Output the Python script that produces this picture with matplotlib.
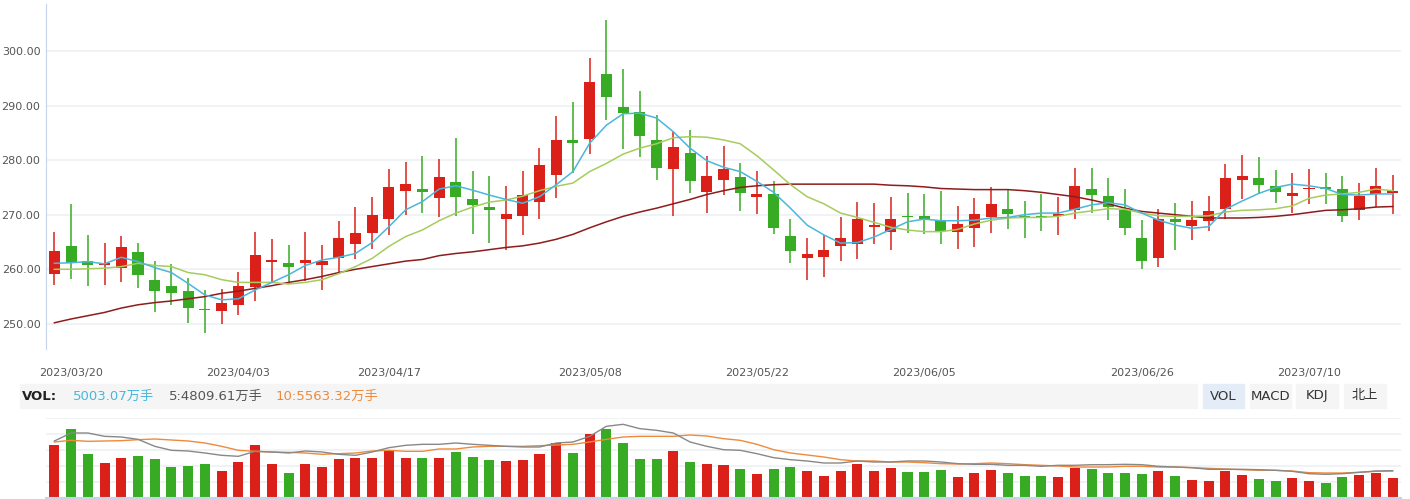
import numpy as np
import matplotlib
matplotlib.use("Agg")
import matplotlib.pyplot as plt
from matplotlib.patches import Rectangle

plt.rcParams['font.family'] = ['DejaVu Sans', 'Noto Sans CJK SC']

# daily candles, 2023/03/17 .. 2023/07/17
opens = [259.2, 264.3, 261.5, 260.8, 260.3, 263.2, 258.1, 257.0, 256.0, 252.8,
         252.3, 253.5, 256.8, 261.4, 261.2, 261.2, 260.8, 262.0, 264.7, 266.7,
         269.3, 274.4, 274.7, 273.1, 276.0, 272.9, 271.4, 269.3, 269.7, 272.4,
         277.2, 283.7, 283.8, 295.8, 289.7, 288.8, 283.7, 278.3, 281.3, 274.2,
         276.4, 276.9, 273.3, 273.8, 266.1, 262.1, 262.3, 264.2, 264.7, 267.8,
         266.9, 269.8, 269.8, 269.0, 266.9, 267.5, 269.6, 271.1, 269.8, 269.8,
         269.7, 270.8, 274.7, 273.4, 270.9, 265.8, 262.1, 269.2, 268.0, 268.9,
         271.1, 276.4, 276.7, 275.3, 273.5, 274.7, 275.1, 274.7, 270.8, 273.8, 273.9]
closes = [263.4, 261.1, 260.8, 261.2, 264.1, 258.9, 256.1, 255.7, 253.0, 252.6,
          253.8, 257.0, 262.6, 261.7, 260.5, 261.7, 261.5, 265.8, 266.7, 270.0,
          275.1, 275.6, 274.2, 276.9, 273.3, 271.7, 270.9, 270.1, 273.6, 279.1,
          283.7, 283.2, 294.3, 291.5, 288.7, 284.5, 278.6, 282.4, 276.1, 277.1,
          278.4, 273.9, 273.8, 267.5, 263.4, 262.8, 263.6, 265.8, 269.2, 268.1,
          269.2, 269.6, 269.2, 267.1, 268.3, 270.1, 272.0, 270.2, 269.4, 269.5,
          270.1, 275.3, 273.7, 271.5, 267.6, 261.6, 269.2, 268.6, 269.0, 270.7,
          276.7, 277.1, 275.5, 274.1, 274.0, 274.9, 274.7, 269.8, 273.4, 275.3, 274.4]
highs = [266.9, 272.0, 266.3, 264.8, 266.1, 264.8, 261.5, 260.9, 258.4, 256.2,
         256.4, 259.5, 266.9, 265.6, 264.5, 266.9, 264.5, 268.9, 271.4, 273.3,
         278.4, 279.7, 280.8, 280.2, 284.1, 278.0, 277.1, 275.3, 278.0, 282.2,
         288.1, 290.7, 298.7, 305.7, 296.7, 292.7, 288.3, 285.2, 285.5, 280.8,
         282.6, 279.5, 278.0, 276.2, 269.2, 265.8, 266.2, 269.6, 272.3, 272.2,
         273.3, 274.0, 273.8, 274.4, 271.6, 273.1, 275.1, 274.5, 272.5, 273.8,
         273.3, 278.6, 278.6, 276.7, 274.7, 269.0, 271.1, 272.2, 272.5, 273.4,
         279.3, 281.0, 280.6, 278.2, 277.7, 278.4, 277.7, 277.1, 275.8, 278.6, 277.3]
lows = [257.1, 258.2, 257.0, 257.1, 257.6, 256.5, 252.2, 253.5, 250.2, 248.3,
        250.0, 251.7, 254.2, 257.4, 257.3, 257.9, 256.2, 259.5, 261.9, 263.8,
        266.2, 270.0, 270.4, 269.5, 269.7, 266.5, 264.9, 263.6, 266.2, 269.3,
        273.1, 277.7, 281.2, 287.4, 282.1, 280.5, 276.3, 269.7, 273.9, 270.4,
        273.7, 270.6, 270.2, 266.4, 261.2, 258.1, 258.5, 261.6, 261.8, 264.7,
        263.6, 266.7, 266.4, 264.7, 263.8, 264.0, 266.7, 267.3, 265.8, 267.1,
        266.2, 269.3, 270.4, 269.1, 266.2, 260.0, 260.5, 263.6, 265.4, 267.1,
        269.3, 272.9, 273.8, 272.2, 270.4, 272.0, 272.0, 268.7, 269.1, 271.5, 270.2]

ma5 = [261.1, 261.2, 261.4, 261.0, 262.2, 261.4, 260.3, 259.4, 257.4, 255.3,
       254.4, 254.6, 256.2, 257.6, 259.0, 260.7, 261.7, 262.2, 262.9, 264.9,
       267.8, 270.9, 272.4, 274.7, 275.3, 274.5, 273.6, 272.8, 272.1, 273.3,
       275.5, 277.9, 283.1, 286.4, 288.5, 288.6, 287.7, 285.2, 282.2, 279.9,
       278.7, 277.9, 276.1, 274.1, 271.2, 268.1, 266.3, 264.8, 264.9, 265.9,
       267.3, 268.7, 269.2, 268.9, 268.9, 269.0, 269.4, 269.5, 270.0, 270.3,
       270.3, 271.0, 271.8, 272.2, 271.8, 270.3, 269.0, 268.1, 267.5, 267.8,
       271.0, 272.5, 273.9, 275.0, 275.6, 275.3, 274.8, 273.7, 273.6, 273.8, 273.8]
ma10 = [260.0, 260.0, 260.1, 260.2, 260.5, 261.1, 260.7, 260.5, 259.4, 259.0,
        258.1, 257.6, 257.6, 257.6, 257.3, 257.6, 258.1, 259.2, 260.5, 262.0,
        264.2, 266.0, 267.2, 268.9, 270.3, 271.4, 272.3, 272.7, 273.4, 274.4,
        275.2, 275.8, 277.9, 279.4, 281.1, 282.2, 283.0, 284.1, 284.3, 284.2,
        283.7, 283.0, 280.8, 278.2, 275.5, 273.3, 272.0, 270.3, 269.5, 268.6,
        267.7, 267.2, 266.9, 266.9, 267.3, 268.3, 269.0, 269.4, 269.5, 269.5,
        269.7, 270.3, 270.7, 271.1, 271.0, 270.3, 269.8, 269.7, 269.7, 269.8,
        270.5, 270.8, 270.9, 271.1, 271.6, 273.0, 273.6, 273.8, 274.1, 274.7, 274.4]
ma_long = [250.2, 250.9, 251.5, 252.1, 252.9, 253.5, 253.9, 254.2, 254.6, 255.0,
           255.6, 256.0, 256.5, 257.0, 257.6, 258.1, 258.7, 259.4, 260.0, 260.5,
           261.0, 261.5, 261.8, 262.5, 262.9, 263.2, 263.6, 264.0, 264.3, 264.8,
           265.5, 266.4, 267.6, 268.7, 269.7, 270.5, 271.2, 272.0, 272.8, 273.7,
           274.4, 275.0, 275.3, 275.5, 275.6, 275.6, 275.6, 275.6, 275.6, 275.6,
           275.4, 275.3, 275.1, 274.8, 274.7, 274.6, 274.6, 274.6, 274.4, 274.1,
           273.7, 273.3, 272.7, 272.0, 271.2, 270.6, 270.3, 270.0, 269.7, 269.4,
           269.4, 269.4, 269.5, 269.7, 270.0, 270.4, 270.8, 270.9, 271.1, 271.4, 271.5]

# volume, 万手
vols = [13180, 17180, 10930, 8680, 9930, 10430, 9680, 7680, 7930, 8430,
        6680, 8930, 13180, 8430, 6180, 8430, 7680, 9680, 9930, 9930,
        12000, 9930, 9930, 9930, 11430, 10180, 9430, 9180, 9430, 10930,
        13680, 11180, 16000, 17180, 13680, 9680, 9680, 11680, 8930, 8430,
        8180, 7180, 5930, 7180, 7680, 6680, 5430, 6680, 8430, 6680,
        7430, 6430, 6430, 6930, 5180, 6180, 6930, 6180, 5430, 5430,
        5180, 7430, 7180, 6180, 6180, 5930, 6680, 5430, 4430, 4180,
        6680, 5680, 4680, 4180, 4930, 4180, 3680, 5180, 5680, 6180, 5003]
vol_ma5 = [14250, 16250, 16250, 15420, 15250, 14670, 12920, 11920, 11750, 11250,
           10670, 10420, 11670, 11500, 11250, 11750, 11500, 10920, 10670, 11500,
           12580, 13170, 13420, 13420, 13750, 13420, 13170, 12920, 12750, 12750,
           13750, 14000, 15420, 17920, 18420, 17330, 16920, 16250, 14000, 12920,
           12080, 11920, 11080, 10080, 9580, 9250, 8750, 8750, 9250, 9000,
           9000, 9250, 9250, 9000, 8580, 8420, 8420, 8170, 8170, 7920,
           8170, 8170, 8330, 8330, 8420, 8330, 7920, 7750, 7580, 7170,
           7170, 7170, 7080, 6920, 6670, 6080, 5920, 6080, 6420, 6750, 6830]
vol_ma10 = [14000, 14420, 14170, 14250, 14330, 14580, 14750, 14500, 14250, 13750,
            12920, 11920, 11670, 11500, 11420, 11250, 10920, 11080, 11250, 11750,
            11920, 11670, 11670, 12250, 12250, 12750, 12920, 12920, 12920, 13080,
            13250, 13420, 14000, 14670, 15250, 15420, 15420, 15420, 15750, 15500,
            14830, 14420, 13420, 12080, 11250, 10750, 10250, 9580, 9250, 9250,
            9000, 9000, 8830, 8580, 8500, 8580, 8750, 8580, 8330, 8170,
            8000, 7750, 7750, 7750, 7920, 7920, 7750, 7750, 7580, 7420,
            7250, 7080, 6920, 6920, 6750, 6330, 6250, 6250, 6420, 6670, 6750]

tick_idx = [1, 11, 20, 32, 42, 52, 65, 75]
tick_labels = ['2023/03/20', '2023/04/03', '2023/04/17', '2023/05/08',
               '2023/05/22', '2023/06/05', '2023/06/26', '2023/07/10']

RED = '#da2018'
GREEN = '#37ab23'
W, H = 1410, 499

fig = plt.figure(figsize=(W / 100, H / 100), dpi=100)

def px_axes(x0, y0, x1, y1):
    return fig.add_axes([x0 / W, 1 - y1 / H, (x1 - x0) / W, (y1 - y0) / H])

x = np.arange(len(opens))
o = np.array(opens); c = np.array(closes)
up = c >= o
cols = [RED if u else GREEN for u in up]

# ---- price panel
ax = px_axes(46, 4, 1401, 349)
ax.set_xlim(-0.5, len(x) - 0.5)
ax.set_ylim(245.4, 308.6)
ax.set_yticks([250, 260, 270, 280, 290, 300])
ax.yaxis.set_major_formatter(matplotlib.ticker.FormatStrFormatter('%.2f'))
ax.grid(axis='y', color='#eef1f5', linewidth=1.2)
ax.set_axisbelow(True)
for s in ['top', 'right', 'bottom']:
    ax.spines[s].set_visible(False)
ax.spines['left'].set_color('#c6d4ea')
ax.tick_params(axis='y', length=0, pad=4, labelsize=8, labelcolor='#555555')
ax.set_xticks(tick_idx)
ax.set_xticklabels(tick_labels)
ax.tick_params(axis='x', length=0, pad=14, labelsize=8, labelcolor='#555555')

ax.vlines(x, lows, highs, colors=cols, linewidth=1.1, zorder=2)
body_h = np.maximum(np.abs(c - o), 0.18)
ax.bar(x, body_h, bottom=np.minimum(o, c), width=0.66, color=cols, zorder=3)

ax.plot(x, ma_long, color='#8e1c1c', linewidth=1.1, zorder=4)
ax.plot(x, ma10, color='#a6cc5c', linewidth=1.1, zorder=4)
ax.plot(x, ma5, color='#4ab7db', linewidth=1.1, zorder=4)

# ---- volume panel
vx = px_axes(46, 418, 1401, 498)
vx.set_xlim(-0.5, len(x) - 0.5)
vx.set_ylim(0, 20000)
vx.set_yticks([4000, 8000, 12000, 16000, 20000])
vx.grid(axis='y', color='#eef1f5', linewidth=1.2)
vx.set_axisbelow(True)
for s in ['top', 'right', 'left']:
    vx.spines[s].set_visible(False)
vx.spines['bottom'].set_color('#c6d4ea')
vx.spines['bottom'].set_linewidth(1.5)
vx.set_xticks([]); vx.set_yticks([4000, 8000, 12000, 16000, 20000])
vx.tick_params(axis='y', length=0, labelleft=False)
vx.bar(x, vols, width=0.6, color=cols, zorder=2)
vx.plot(x, vol_ma10, color='#ef8a3c', linewidth=1.0, zorder=3)
vx.plot(x, vol_ma5, color='#888888', linewidth=1.0, zorder=3)

# ---- indicator header row
def frect(x0, y0, x1, y1, color):
    fig.add_artist(Rectangle((x0 / W, 1 - y1 / H), (x1 - x0) / W, (y1 - y0) / H,
                             transform=fig.transFigure, color=color, zorder=0))

def ftext(xp, yp, s, **kw):
    fig.text(xp / W, 1 - yp / H, s, va='center', **kw)

frect(20, 384, 1197, 408, '#f5f5f5')
ftext(22, 396, 'VOL:', fontsize=9.5, fontweight='bold', color='#222222')
ftext(73, 396, '5003.07万手', fontsize=9.5, color='#4ab7db')
ftext(169, 396, '5:4809.61万手', fontsize=9.5, color='#555555')
ftext(276, 396, '10:5563.32万手', fontsize=9.5, color='#ef8a3c')

buttons = [('VOL', 1203, 1244, '#e3ecf7'), ('MACD', 1250, 1291, '#f5f5f5'),
           ('KDJ', 1296, 1338, '#f5f5f5'), ('北上', 1344, 1386, '#f5f5f5')]
for label, bx0, bx1, bg in buttons:
    frect(bx0, 384, bx1, 408, bg)
    ftext((bx0 + bx1) / 2, 396, label, fontsize=9.5, color='#333333', ha='center',
          family=['DejaVu Sans', 'Noto Sans CJK SC'])

fig.savefig('out.png', dpi=100)
